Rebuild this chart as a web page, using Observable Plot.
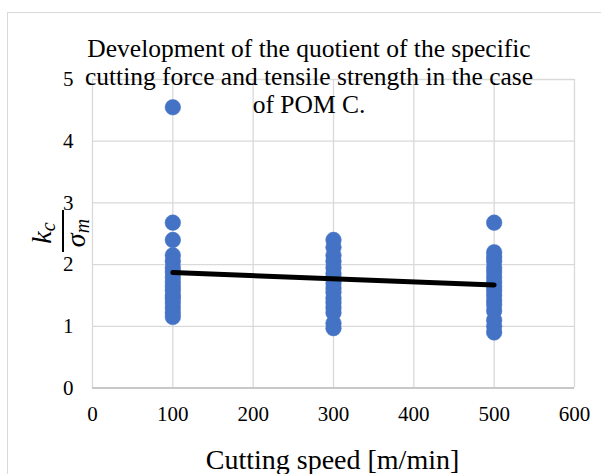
<!DOCTYPE html>
<html><head><meta charset="utf-8">
<script src="https://cdn.jsdelivr.net/npm/d3@7"></script>
<script src="https://cdn.jsdelivr.net/npm/@observablehq/plot@0.6"></script>
<style>
body{margin:0;background:#fff;overflow:hidden}
#wrap{position:relative;width:601px;height:474px;overflow:hidden;background:#fff}
#frame{position:absolute;left:7px;top:12px;width:640px;height:520px;border:1px solid #d9d9d9;box-sizing:border-box}
#chart{position:absolute;left:0;top:0}
#chart svg text{font-family:"Liberation Serif","Times New Roman",serif !important}
</style></head><body><div id="wrap"><div id="frame"></div><div id="chart"></div></div>
<script>
const ratio100 = [4.55, 2.68, 2.4, 2.15, 2.05, 1.95, 1.88, 1.8, 1.72, 1.65, 1.58, 1.5, 1.45, 1.38, 1.3, 1.22, 1.15];
const ratio300 = [2.4, 2.28, 2.15, 2.05, 1.95, 1.85, 1.78, 1.7, 1.62, 1.55, 1.45, 1.38, 1.3, 1.22, 1.05, 0.97];
const ratio500 = [2.68, 2.2, 2.12, 2.05, 1.95, 1.88, 1.8, 1.72, 1.65, 1.58, 1.5, 1.42, 1.35, 1.25, 1.1, 1.0, 0.9];
const trendSpeed = [100, 500];
const trendRatio = [1.87, 1.67];
const xTicks = [0, 100, 200, 300, 400, 500, 600];
const yTicks = [0, 1, 2, 3, 4, 5];
const titleLines = ["Development of the quotient of the specific", "cutting force and tensile strength in the case", "of POM C."];
const xLabel = "Cutting speed [m/min]";

const points = [
  ...ratio100.map(v => ({speed: 100, ratio: v})),
  ...ratio300.map(v => ({speed: 300, ratio: v})),
  ...ratio500.map(v => ({speed: 500, ratio: v}))
];
const trend = trendSpeed.map((s, i) => ({speed: s, ratio: trendRatio[i]}));

const serif = '"Liberation Serif", "Times New Roman", serif';
const W = 601, H = 474, ML = 92, MR = 27, MT = 79, MB = 86.5;

const plot = Plot.plot({
  width: W, height: H,
  marginLeft: ML, marginRight: MR, marginTop: MT, marginBottom: MB,
  x: {domain: [0, 600]},
  y: {domain: [0, 5]},
  style: {fontFamily: serif, background: "transparent", color: "#000"},
  marks: [
    Plot.gridX(xTicks, {stroke: "#d9d9d9", strokeOpacity: 1, strokeWidth: 1.3}),
    Plot.gridY(yTicks, {stroke: "#d9d9d9", strokeOpacity: 1, strokeWidth: 1.3}),
    Plot.ruleY([0], {stroke: "#bfbfbf", strokeWidth: 1.5}),
    Plot.axisX(xTicks, {tickSize: 0, tickPadding: 18, fontSize: 21, fontFamily: serif, tickFormat: d => String(d), label: null, fill: "#000"}),
    Plot.axisY(yTicks, {tickSize: 0, tickPadding: 19, fontSize: 21, fontFamily: serif, fontVariant: "normal", tickFormat: d => String(d), label: null, fill: "#000"}),
    Plot.dot(points, {x: "speed", y: "ratio", r: 7.8, fill: "#4472C4", stroke: "#4472C4", strokeWidth: 0.5}),
    Plot.line(trend, {x: "speed", y: "ratio", stroke: "#000", strokeWidth: 5})
  ]
});
document.getElementById("chart").appendChild(plot);

const svg = d3.select(plot);
// title
const tg = svg.append("g").attr("font-family", serif).attr("font-size", 25.5).attr("text-anchor", "middle").attr("fill", "#000");
titleLines.forEach((t, i) => {
  tg.append("text").attr("x", 309).attr("y", 57 + i * 28).text(t);
});
// x label
svg.append("text").attr("x", 332.5).attr("y", 469).attr("text-anchor", "middle")
  .attr("font-family", serif).attr("font-size", 28).attr("fill", "#000").text(xLabel);
// y label (fraction k_c / sigma_m), rotated
const yl = svg.append("g").attr("transform", "translate(63,231) rotate(-90)")
  .attr("font-family", serif).attr("font-style", "italic").attr("fill", "#000");
yl.append("line").attr("x1", -21).attr("x2", 21).attr("y1", 0).attr("y2", 0).attr("stroke", "#000").attr("stroke-width", 2);
const num = yl.append("text").attr("x", -2).attr("y", -12).attr("text-anchor", "middle").attr("font-size", 28);
num.append("tspan").text("k");
num.append("tspan").attr("font-size", 20).attr("dy", 4).text("c");
const den = yl.append("text").attr("x", -2).attr("y", 22).attr("text-anchor", "middle").attr("font-size", 28);
den.append("tspan").text("σ");
den.append("tspan").attr("font-size", 20).attr("dy", 4).text("m");
</script></body></html>
